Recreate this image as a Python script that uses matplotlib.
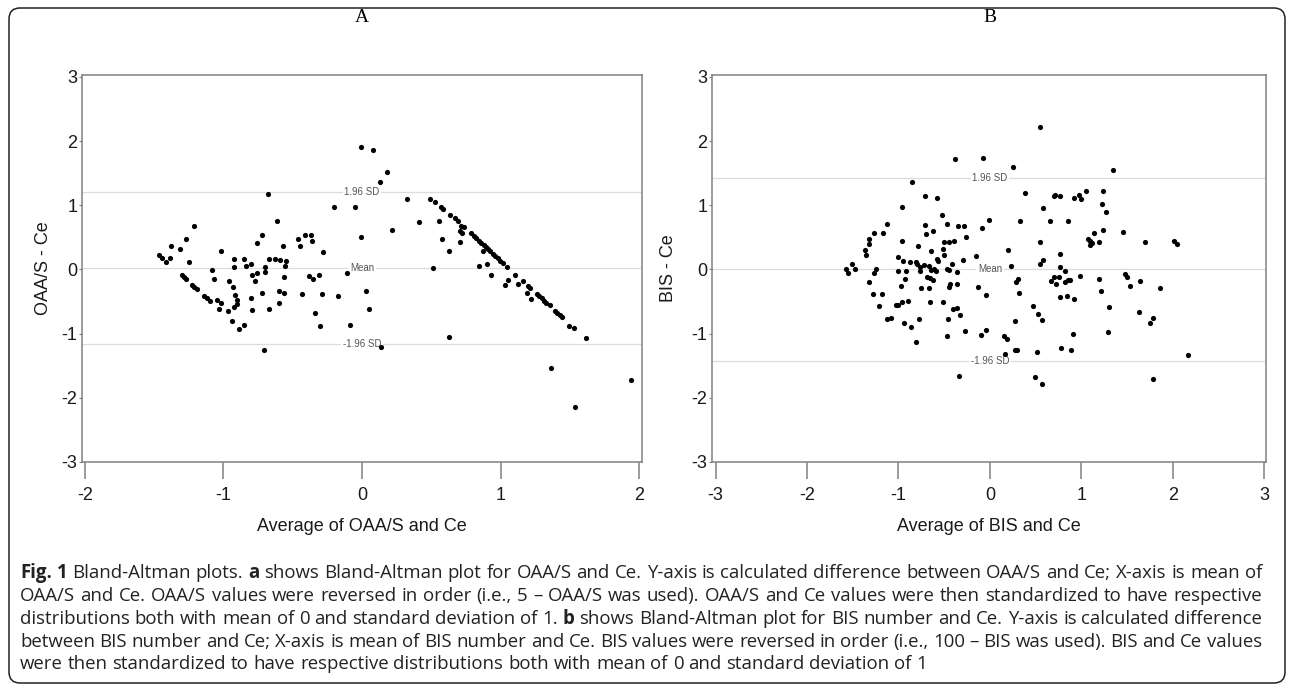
"""Bland-Altman plots for OAA/S vs Ce (A) and BIS vs Ce (B) with figure caption."""

import matplotlib
matplotlib.use("Agg")
import matplotlib.pyplot as plt
from matplotlib.patches import FancyBboxPatch
from matplotlib.transforms import IdentityTransform

W, H = 1292, 687

# Panel A: average of OAA/S and Ce vs difference
oaa_avg = [
    -0.005, -0.68, -0.20, -0.05, -0.007, -1.215, -0.61, -1.27, -1.38, -1.31,
    -0.72, -0.755, -0.57, -0.46, -0.45, -0.41, -0.37, -0.36, -0.28, -1.015,
    -1.465, -1.44, -1.417, -1.385, -1.25, -0.92, -0.85, -0.925, -0.84, -0.80,
    -0.70, -0.67, -0.63, -0.59, -0.55, -0.555, -1.08, -1.066, -0.70, -0.76,
    -0.79, -0.96, -0.93, -0.775, -0.56, -0.38, -0.35, -0.31, -0.11, -1.30,
    -1.285, -1.27, -1.23, -1.21, -1.19, -1.14, -1.12, -1.10, -1.046, -1.017,
    -0.914, -0.90, -0.80, -0.72, -0.60, -0.56, -0.43, -0.29, -0.17, 0.026,
    -0.60, -1.035, -0.97, -0.92, -0.90, -0.94, -0.885, -0.854, -0.79, -0.67,
    -0.71, -0.337, -0.30, -0.084, 0.05, 0.076, 0.178, 0.13, 0.325, 0.22,
    0.41, 0.488, 0.529, 0.567, 0.584, 0.635, 0.668, 0.690, 0.716, 0.736,
    0.784, 0.805, 0.825, 0.844, 0.861, 0.877, 0.892, 0.909, 0.926, 0.942,
    0.962, 0.981, 0.998, 1.015, 1.046, 0.558, 0.58, 0.63, 0.707, 0.704,
    0.72, 0.87, 0.51, 0.845, 0.904, 0.93, 1.106, 1.159, 1.20, 1.214,
    1.263, 1.28, 1.30, 1.315, 1.33, 1.354, 1.39, 1.41, 1.426, 1.445,
    1.49, 1.53, 1.616, 1.03, 1.05, 1.128, 1.19, 1.22, 0.63, 0.134,
    1.364, 1.534, 1.943,
]
oaa_diff = [
    1.91, 1.17, 0.98, 0.975, 0.50, 0.68, 0.75, 0.47, 0.37, 0.32,
    0.54, 0.41, 0.36, 0.47, 0.37, 0.53, 0.53, 0.44, 0.27, 0.29,
    0.23, 0.18, 0.12, 0.18, 0.12, 0.17, 0.17, 0.04, 0.06, 0.08,
    0.04, 0.16, 0.17, 0.14, 0.13, 0.05, -0.01, -0.15, -0.04, -0.05,
    -0.09, -0.18, -0.27, -0.18, -0.12, -0.10, -0.15, -0.08, -0.06, -0.09,
    -0.12, -0.15, -0.24, -0.27, -0.31, -0.41, -0.45, -0.49, -0.48, -0.53,
    -0.40, -0.48, -0.45, -0.37, -0.33, -0.36, -0.38, -0.38, -0.42, -0.33,
    -0.53, -0.62, -0.64, -0.59, -0.54, -0.80, -0.92, -0.87, -0.63, -0.62,
    -1.255, -0.685, -0.88, -0.87, -0.61, 1.855, 1.52, 1.37, 1.10, 0.62,
    0.74, 1.104, 1.058, 0.98, 0.944, 0.855, 0.803, 0.757, 0.684, 0.658,
    0.571, 0.529, 0.493, 0.451, 0.42, 0.384, 0.353, 0.316, 0.285, 0.244,
    0.207, 0.171, 0.135, 0.104, 0.042, 0.76, 0.48, 0.29, 0.425, 0.60,
    0.57, 0.29, 0.026, 0.057, 0.09, -0.08, -0.08, -0.18, -0.25, -0.29,
    -0.38, -0.415, -0.45, -0.49, -0.52, -0.56, -0.64, -0.68, -0.71, -0.74,
    -0.88, -0.91, -1.07, -0.24, -0.17, -0.23, -0.36, -0.46, -1.05, -1.21,
    -1.53, -2.15, -1.715,
]

# Panel B: average of BIS and Ce vs difference
bis_avg = [
    -0.387, -0.072, 0.257, -0.853, -0.71, -0.58, -0.96, -0.52, -0.007, -1.13,
    -0.71, -0.47, -0.35, -0.285, -0.09, -1.266, -1.17, -0.62, -0.70, -0.26,
    -1.32, -1.32, -0.96, -0.506, -0.45, -0.394, -0.785, -1.364, -1.36, -0.644,
    -0.51, -0.50, -0.15, 0.20, -1.005, -0.955, -0.87, -0.81, -0.80, -0.58,
    -0.565, -0.416, -0.29, -0.763, -0.726, -0.67, -0.615, -0.595, -0.64, -0.47,
    -0.45, -0.365, -1.005, -0.915, -0.763, -1.578, -1.55, -1.51, -1.48, -1.25,
    -1.27, 0.235, -1.32, -0.926, -0.97, -0.69, -0.655, -0.625, -0.75, -0.665,
    -0.45, -0.44, -0.365, -0.134, -0.04, -1.274, -1.176, -1.216, -1.027, -1.00,
    -0.965, -0.897, -0.66, -0.514, -0.405, -0.36, -1.125, -1.085, -0.944, -0.864,
    -0.78, -0.81, -0.47, -0.46, -0.33, -0.27, -0.10, -0.04, 0.15, 0.185,
    0.16, 0.276, 0.27, -0.336, 0.547, 1.35, 0.384, 0.70, 0.717, 0.77,
    0.923, 0.977, 0.996, 1.047, 1.234, 0.583, 1.23, 1.275, 0.33, 0.662,
    0.85, 1.134, 1.24, 1.46, 1.068, 1.097, 1.115, 1.093, 1.194, 1.694,
    2.013, 2.045, 0.543, 0.77, 0.576, 0.55, 0.768, 0.818, 0.28, 0.308,
    0.32, 0.475, 0.663, 0.706, 0.718, 0.754, 0.825, 0.85, 0.876, 0.985,
    1.188, 1.21, 1.48, 1.503, 1.528, 1.644, 1.865, 0.77, 0.846, 0.916,
    1.304, 1.626, 1.756, 1.785, 0.529, 0.572, 0.909, 1.296, 0.30, 0.518,
    0.774, 0.887, 2.165, 0.496, 0.565, 1.78,
]
bis_diff = [
    1.72, 1.74, 1.59, 1.37, 1.15, 1.12, 0.975, 0.855, 0.77, 0.715,
    0.70, 0.71, 0.67, 0.68, 0.64, 0.57, 0.575, 0.60, 0.55, 0.51,
    0.47, 0.40, 0.45, 0.43, 0.425, 0.45, 0.37, 0.30, 0.22, 0.29,
    0.32, 0.23, 0.21, 0.30, 0.19, 0.135, 0.11, 0.11, 0.09, 0.17,
    0.135, 0.08, 0.145, 0.04, 0.07, 0.06, 0.015, -0.03, -0.015, 0.0,
    -0.015, -0.04, -0.03, -0.03, -0.03, 0.005, -0.06, 0.08, 0.005, 0.01,
    -0.05, 0.05, -0.19, -0.145, -0.25, -0.12, -0.14, -0.17, -0.29, -0.29,
    -0.27, -0.23, -0.23, -0.275, -0.40, -0.39, -0.39, -0.575, -0.56, -0.55,
    -0.50, -0.49, -0.51, -0.50, -0.62, -0.60, -0.77, -0.76, -0.83, -0.89,
    -0.77, -1.135, -1.04, -0.77, -0.71, -0.96, -1.02, -0.95, -1.04, -1.08,
    -1.32, -1.25, -0.80, -1.66, 2.22, 1.55, 1.19, 1.14, 1.155, 1.14,
    1.12, 1.155, 1.10, 1.23, 1.23, 0.96, 1.02, 0.90, 0.76, 0.75,
    0.76, 0.57, 0.62, 0.58, 0.48, 0.44, 0.415, 0.38, 0.43, 0.435,
    0.44, 0.40, 0.435, 0.24, 0.14, 0.08, 0.035, -0.02, -0.19, -0.15,
    -0.37, -0.575, -0.18, -0.12, -0.23, -0.12, -0.19, -0.17, -0.17, -0.10,
    -0.155, -0.33, -0.07, -0.12, -0.26, -0.18, -0.295, -0.43, -0.41, -0.46,
    -0.58, -0.67, -0.835, -0.76, -0.70, -0.79, -1.006, -0.97, -1.25, -1.29,
    -1.23, -1.26, -1.33, -1.675, -1.79, -1.70,
]

# limits of agreement (mean, +1.96 SD, -1.96 SD)
oaa_limits = [0.02, 1.20, -1.16]
bis_limits = [0.0, 1.43, -1.42]
limit_labels = ["Mean", "1.96 SD", "-1.96 SD"]

caption = [
    [("Fig. 1", True), (" Bland-Altman plots. ", False), ("a", True),
     (" shows Bland-Altman plot for OAA/S and Ce. Y-axis is calculated difference between OAA/S and Ce; X-axis is mean of", False)],
    [("OAA/S and Ce. OAA/S values were reversed in order (i.e., 5 \u2013 OAA/S was used). OAA/S and Ce values were then standardized to have respective", False)],
    [("distributions both with mean of 0 and standard deviation of 1. ", False), ("b", True),
     (" shows Bland-Altman plot for BIS number and Ce. Y-axis is calculated difference", False)],
    [("between BIS number and Ce; X-axis is mean of BIS number and Ce. BIS values were reversed in order (i.e., 100 \u2013 BIS was used). BIS and Ce values", False)],
    [("were then standardized to have respective distributions both with mean of 0 and standard deviation of 1", False)],
]

plt.rcParams["font.family"] = ["Liberation Sans", "DejaVu Sans"]

fig = plt.figure(figsize=(W / 100, H / 100), dpi=100)


def px_axes(left, top, right, bottom):
    return fig.add_axes([left / W, 1 - bottom / H, (right - left) / W, (bottom - top) / H])


ax_a = px_axes(82, 75, 642, 462)
ax_b = px_axes(712, 75, 1266, 462)

panels = [
    (ax_a, oaa_avg, oaa_diff, oaa_limits, (-2.02, 2.02), [-2, -1, 0, 1, 2],
     "Average of OAA/S and Ce", "OAA/S - Ce", -0.054),
    (ax_b, bis_avg, bis_diff, bis_limits, (-3.04, 3.02), [-3, -2, -1, 0, 1, 2, 3],
     "Average of BIS and Ce", "BIS - Ce", -0.064),
]

for ax, xs, ys, limits, xlim, xticks, xlabel, ylabel, ylab_x in panels:
    for val, lab in zip(limits, limit_labels):
        ax.axhline(val, color="#dcdcdc", lw=0.9, zorder=0)
        ax.text(0, val, lab, ha="center", va="center", fontsize=7, color="#555555",
                bbox=dict(fc="white", ec="none", pad=1.2), zorder=1)
    ax.scatter(xs, ys, s=14, color="black", linewidths=0, zorder=3)
    ax.set_xlim(*xlim)
    ax.set_ylim(-3.0, 3.03)
    ax.set_xticks(xticks)
    ax.set_yticks([-3, -2, -1, 0, 1, 2, 3])
    ax.set_xticklabels([str(t) for t in xticks])
    ax.set_yticklabels([str(t) for t in [-3, -2, -1, 0, 1, 2, 3]])
    for s in ax.spines.values():
        s.set_color("#808080")
        s.set_linewidth(1.1)
    ax.tick_params(axis="x", direction="out", length=12, width=1.1, color="#808080",
                   pad=6, labelsize=13, labelcolor="#1a1a1a")
    ax.tick_params(axis="y", direction="out", length=2, width=0.8, color="#808080",
                   pad=1.5, labelsize=13, labelcolor="#1a1a1a")
    ax.set_xlabel(xlabel, fontsize=13, color="#1a1a1a")
    ax.set_ylabel(ylabel, fontsize=13, color="#1a1a1a")
    ax.xaxis.set_label_coords(0.5, -0.145)
    ax.yaxis.set_label_coords(ylab_x, 0.5)

fig.text(362 / W, 1 - 17 / H, "A", ha="center", va="center", fontsize=14,
         family="Liberation Serif")
fig.text(990 / W, 1 - 17 / H, "B", ha="center", va="center", fontsize=14,
         family="Liberation Serif")

# rounded frame round the whole figure
frame = FancyBboxPatch((9, 4), 1276, 675, boxstyle="round,pad=0,rounding_size=11",
                       transform=IdentityTransform(), fc="none", ec="#222222", lw=1.1)
fig.add_artist(frame)

# justified caption, placed word by word
renderer = fig.canvas.get_renderer()
x_left, x_right = 20, 1262
line_y = [573, 596, 619, 642, 664]

# pick the caption size so the first line fills the width with near-normal spacing
first_line = "".join(t for t, _ in caption[0])
probe = fig.text(0, 0, first_line, family="Open Sans", fontsize=11)
cap_size = 11 * (x_right - x_left - 8) / probe.get_window_extent(renderer).width
probe.remove()
cap_font = dict(family="Open Sans", fontsize=cap_size, color="#222222")

probe = fig.text(0, 0, "x x", **cap_font)
probe2 = fig.text(0, 0, "xx", **cap_font)
space_w = (probe.get_window_extent(renderer).width
           - probe2.get_window_extent(renderer).width)
probe.remove()
probe2.remove()

for i, (segments, yc) in enumerate(zip(caption, line_y)):
    words = []
    for text, bold in segments:
        for w in text.split(" "):
            if w:
                words.append((w, bold))
    items = []
    for w, bold in words:
        t = fig.text(0, 1 - (yc + 5) / H, w, va="baseline",
                     fontweight="bold" if bold else "normal", **cap_font)
        items.append((t, t.get_window_extent(renderer).width))
    total = sum(wd for _, wd in items)
    if i < len(caption) - 1:
        gap = (x_right - x_left - total) / (len(items) - 1)
    else:
        gap = space_w
    x = x_left
    for t, wd in items:
        t.set_x(x / W)
        x += wd + gap

fig.savefig("out.png", dpi=100)
